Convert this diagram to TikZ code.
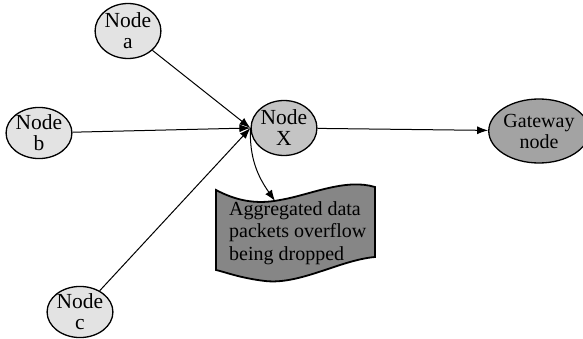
\documentclass[tikz,border=0pt]{standalone}
\usepackage{fontspec}
\setmainfont{Liberation Serif}
\usetikzlibrary{shapes.geometric,arrows.meta}
\definecolor{lightnode}{HTML}{E3E3E3}
\definecolor{midnode}{HTML}{C4C4C4}
\definecolor{gatenode}{HTML}{A3A3A3}
\definecolor{wavegray}{HTML}{868686}
\tikzset{
  nd/.style={ellipse, draw, line width=1.3pt, inner sep=0pt, align=center,
    font=\fontsize{21.5}{21}\selectfont},
  small/.style={nd, fill=lightnode, minimum width=51pt, minimum height=52pt},
  arr/.style={line width=1pt, -{Latex[length=11pt,width=8pt]}},
  ln/.style={line width=1.8pt}
}
\begin{document}
\begin{tikzpicture}[x=1pt,y=-1pt]
\useasboundingbox (0,0) rectangle (583,339);
\node[small, minimum height=55pt] (a) at (128,31) {Node\\a};
\node[small, minimum height=50pt] (b) at (39,133) {Node\\b};
\node[small, minimum width=50pt, minimum height=50pt] (c) at (80,312) {Node\\c};
\node[nd, fill=midnode, minimum width=54pt, minimum height=55pt] (X) at (284,128) {Node\\X};
\node[nd, fill=gatenode, minimum width=82pt, minimum height=64pt, font=\fontsize{20}{21}\selectfont] (g) at (539,131) {Gateway\\node};
\draw[ln, fill=wavegray] (216,190) .. controls (235,200) and (255,205) .. (280,200)
  .. controls (310,195) and (345,178) .. (375,187) -- (375,257)
  .. controls (340,260) and (300,285) .. (265,281)
  .. controls (240,278) and (225,272) .. (216,270) -- cycle;
\coordinate (wt) at (275,201);
\node[anchor=north west, align=left, inner sep=0pt, font=\fontsize{20}{22.5}\selectfont] (w) at (229,201) {Aggregated data\\packets overflow\\being dropped};
\draw[arr] (a) -- (X.west);
\draw[arr] (b) -- (X.west);
\draw[arr] (c) -- (X.west);
\draw[arr] (X) -- (g);
\draw[arr] (X.west) to[out=-92, in=125] (wt);
\end{tikzpicture}
\end{document}
